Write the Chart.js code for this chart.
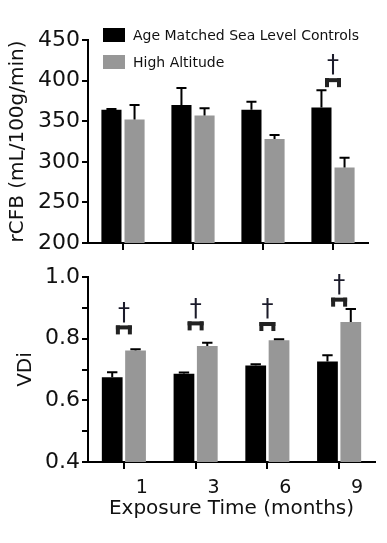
<!DOCTYPE html>
<html>
<head>
<meta charset="utf-8">
<script src="https://cdn.jsdelivr.net/npm/chart.js@4.4.1/dist/chart.umd.min.js"></script>
<style>
    body { margin: 0; background: #fff; width: 387px; height: 543px; position: relative; overflow: hidden; font-family: "DejaVu Sans", sans-serif; }
    canvas { position: absolute; left: 0; }
    #rcfbChart { top: 0; }
    #vdiChart { top: 260px; }
    .legend-item { position: absolute; left: 103px; height: 14px; font-size: 14px; color: #111; line-height: 14px; white-space: nowrap; }
    .legend-item .box { display: inline-block; width: 22px; height: 14px; vertical-align: top; margin-right: 8px; }
</style>
</head>
<body>
<canvas id="rcfbChart" width="387" height="260"></canvas>
<canvas id="vdiChart" width="387" height="283"></canvas>
<div id="legend"></div>

<script>
// Datos
const months = ['1', '3', '6', '9'];
const seriesNames = ['Age Matched Sea Level Controls', 'High Altitude'];
const seriesColors = ['#000000', '#979797'];

const rcfbControl = [364, 370, 364, 367];
const rcfbControlSem = [1, 21, 10, 21];
const rcfbAltitude = [352, 357, 328, 293];
const rcfbAltitudeSem = [18, 9, 5, 12];
const rcfbTicks = [200, 250, 300, 350, 400, 450];
const rcfbSig = [null, null, null, 403];

const vdiControl = [0.675, 0.686, 0.713, 0.726];
const vdiControlSem = [0.016, 0.004, 0.004, 0.020];
const vdiAltitude = [0.762, 0.776, 0.795, 0.854];
const vdiAltitudeSem = [0.004, 0.011, 0.003, 0.042];
const vdiTicks = [0.4, 0.5, 0.6, 0.7, 0.8, 0.9, 1.0];
const vdiTickLabels = ['0.4', '', '0.6', '', '0.8', '', '1.0'];
const vdiSig = [0.843, 0.856, 0.854, 0.933];

const FONT = '"DejaVu Sans", sans-serif';
const INK = '#111';

// barras de error (solo hacia arriba)
const errorBars = {
    id: 'errorBars',
    afterDatasetsDraw(chart) {
        const ctx = chart.ctx;
        const y = chart.scales.y;
        ctx.save();
        ctx.strokeStyle = '#000';
        ctx.lineWidth = 2;
        chart.data.datasets.forEach((ds, i) => {
            chart.getDatasetMeta(i).data.forEach((bar, j) => {
                const top = y.getPixelForValue(ds.data[j] + ds.sem[j]);
                const cap = bar.width / 4;
                ctx.beginPath();
                ctx.moveTo(bar.x, bar.y);
                ctx.lineTo(bar.x, top);
                ctx.moveTo(bar.x - cap, top);
                ctx.lineTo(bar.x + cap, top);
                ctx.stroke();
            });
        });
        ctx.restore();
    }
};

// corchetes de significancia con †
const brackets = {
    id: 'brackets',
    afterDatasetsDraw(chart, args, opts) {
        const { ctx, scales: { x, y } } = chart;
        ctx.save();
        opts.values.forEach((v, i) => {
            if (v == null) return;
            const cx = x.getPixelForValue(i);
            const py = y.getPixelForValue(v);
            ctx.fillStyle = '#222';
            ctx.fillRect(cx - 8, py, 16, 4);
            ctx.fillRect(cx - 8, py, 4, 9);
            ctx.fillRect(cx + 4, py, 4, 9);
            ctx.fillStyle = '#1b1b2a';
            ctx.font = '24px ' + FONT;
            ctx.textAlign = 'center';
            ctx.textBaseline = 'bottom';
            ctx.fillText('\u2020', cx, py);
        });
        ctx.restore();
    }
};

function makeDatasets(a, aSem, b, bSem, catPct, barPct) {
    return [a, b].map((values, k) => ({
        label: seriesNames[k],
        data: values,
        sem: k === 0 ? aSem : bSem,
        backgroundColor: seriesColors[k],
        borderWidth: 0,
        categoryPercentage: catPct,
        barPercentage: barPct
    }));
}

function axisGrid(len) {
    return { display: true, drawOnChartArea: false, offset: false, tickLength: len, lineWidth: 2, color: '#000' };
}

new Chart(document.getElementById('rcfbChart'), {
    type: 'bar',
    data: {
        labels: months,
        datasets: makeDatasets(rcfbControl, rcfbControlSem, rcfbAltitude, rcfbAltitudeSem, 0.66, 0.87)
    },
    options: {
        responsive: false,
        animation: false,
        layout: { padding: { top: 40, right: 19, left: 0, bottom: 0 } },
        plugins: {
            legend: { display: false },
            tooltip: { enabled: false },
            brackets: { values: rcfbSig }
        },
        scales: {
            x: {
                grid: axisGrid(7),
                border: { color: '#000', width: 2 },
                ticks: { display: false },
                afterFit: s => { s.height = 17; }
            },
            y: {
                min: 200,
                max: 450,
                afterBuildTicks: s => { s.ticks = rcfbTicks.map(v => ({ value: v })); },
                grid: axisGrid(6),
                border: { color: '#000', width: 2 },
                ticks: { font: { size: 22, family: FONT }, color: INK, padding: 2 },
                title: { display: true, text: 'rCFB (mL/100g/min)', font: { size: 20, family: FONT }, color: INK, padding: { top: 6, bottom: 0 } },
                afterFit: s => { s.width = 88; }
            }
        }
    },
    plugins: [errorBars, brackets]
});

new Chart(document.getElementById('vdiChart'), {
    type: 'bar',
    data: {
        labels: months,
        datasets: makeDatasets(vdiControl, vdiControlSem, vdiAltitude, vdiAltitudeSem, 0.65, 0.89)
    },
    options: {
        responsive: false,
        animation: false,
        layout: { padding: { top: 17, right: 12, left: 0, bottom: 0 } },
        plugins: {
            legend: { display: false },
            tooltip: { enabled: false },
            brackets: { values: vdiSig }
        },
        scales: {
            x: {
                grid: axisGrid(7),
                border: { color: '#000', width: 2 },
                ticks: { font: { size: 19, family: FONT }, color: INK, padding: 8, labelOffset: 18, maxRotation: 0 },
                title: { display: true, text: 'Exposure Time (months)', font: { size: 20, family: FONT }, color: INK, padding: { top: 0, bottom: 22 } },
                afterFit: s => { s.height = 81; }
            },
            y: {
                min: 0.4,
                max: 1.0,
                afterBuildTicks: s => { s.ticks = vdiTicks.map(v => ({ value: v })); },
                grid: axisGrid(6),
                border: { color: '#000', width: 2 },
                ticks: { font: { size: 22, family: FONT }, color: INK, padding: 2, callback: (v, i) => vdiTickLabels[i] },
                title: { display: true, text: 'VDi', font: { size: 20, family: FONT }, color: INK, padding: { top: 14, bottom: 0 } },
                afterFit: s => { s.width = 88; }
            }
        }
    },
    plugins: [errorBars, brackets]
});

// Leyenda
const legendDiv = document.getElementById('legend');
legendDiv.innerHTML = seriesNames.map((name, k) => `
    <div class="legend-item" style="top:${k === 0 ? 28 : 55}px">
        <span class="box" style="background:${seriesColors[k]}"></span>${name}
    </div>
`).join('');
</script>
</body>
</html>
